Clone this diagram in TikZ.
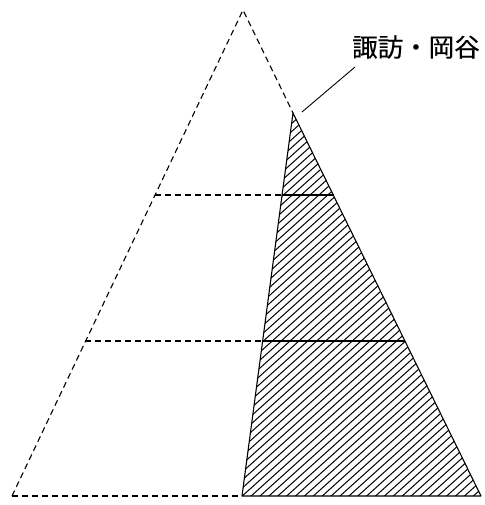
\documentclass[tikz,border=0pt]{standalone}
\usepackage{fontspec}
\newfontfamily\cjk[FakeBold=0.3]{Noto Sans CJK JP}
\tikzset{
  dashline/.style={line width=1.1pt, dash pattern=on 6pt off 4pt},
  solidline/.style={line width=1.1pt},
  hatchline/.style={line width=1pt},
  lbl/.style={font=\cjk\fontsize{25.5pt}{27pt}\selectfont, inner sep=0pt}
}
\begin{document}
\begin{tikzpicture}[x=1pt,y=-1pt]
\useasboundingbox (0,0) rectangle (484,505);
\coordinate (A) at (243,10);
\coordinate (BL) at (12,496);
\coordinate (BR) at (481,496);
\coordinate (T) at (293,113);
\coordinate (HB) at (242,496);
\coordinate (L1) at (155,195);
\coordinate (M1) at (282,195);
\coordinate (R1) at (333.6,195);
\coordinate (L2) at (85,341);
\coordinate (M2) at (262.5,341);
\coordinate (R2) at (405,341);
% hatched region
\begin{scope}
  \clip (T) -- (BR) -- (HB) -- cycle;
  \foreach \c in {370,378,...,940} {
    \draw[hatchline] (230,{\c-0.9*230}) -- (490,{\c-0.9*490});
  }
\end{scope}
\draw[solidline, line join=round] (T) -- (BR) -- (HB) -- cycle;
% dashed outline
\draw[dashline] (BL) -- (A) -- (T);
\draw[dashline] (BL) -- (HB);
\draw[dashline] (L1) -- (M1);
\draw[dashline] (L2) -- (M2);
\draw[solidline] (M1) -- (R1);
\draw[solidline] (M2) -- (R2);
% label
\node[lbl, anchor=west] (lab) at (352,47) {諏訪・岡谷};
\coordinate (P) at (355,67);
\coordinate (Q) at (302,112);
\draw[line width=0.9pt] (P) -- (Q);
\end{tikzpicture}
\end{document}
